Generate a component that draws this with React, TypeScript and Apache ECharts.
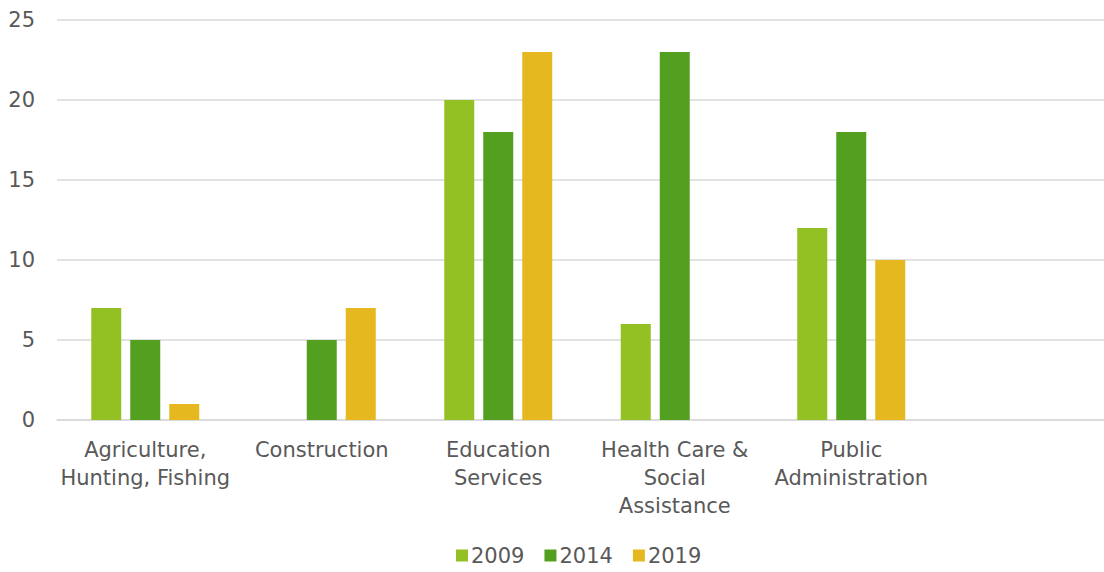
import React, { useEffect, useRef } from "react";
import * as echarts from "echarts";

const categories = [
  "Agriculture,\nHunting, Fishing",
  "Construction",
  "Education\nServices",
  "Health Care &\nSocial\nAssistance",
  "Public\nAdministration",
  "",
];
const seriesNames = ["2009", "2014", "2019"];
const values2009 = [7, null, 20, 6, 12, null];
const values2014 = [5, 5, 18, 23, 18, null];
const values2019 = [1, 7, 23, null, 10, null];
const yTicks = [0, 5, 10, 15, 20, 25];
const colors = ["#93C123", "#53A021", "#E6B820"];

const FONT = "DejaVu Sans";

export default function App() {
  const ref = useRef<HTMLDivElement>(null);
  useEffect(() => {
    document.body.style.margin = "0";
    const chart = echarts.init(ref.current!, null, { renderer: "svg" });
    const data = [values2009, values2014, values2019];
    chart.setOption({
      animation: false,
      textStyle: { fontFamily: FONT },
      grid: { left: 57, right: 0, top: 20, bottom: 152, containLabel: false },
      legend: {
        bottom: 1,
        left: 451,
        itemWidth: 12,
        itemHeight: 12,
        itemGap: 20,
        icon: "rect",
        textStyle: { fontSize: 21, color: "#595959", fontFamily: FONT, padding: [0, 0, 0, -2] },
        data: seriesNames,
      },
      xAxis: {
        type: "category",
        data: categories,
        axisLine: { lineStyle: { color: "#d9d9d9", width: 1.5 } },
        axisTick: { show: false },
        axisLabel: {
          interval: 0,
          margin: 16,
          fontSize: 21,
          lineHeight: 28,
          color: "#595959",
          fontFamily: FONT,
          align: "center",
        },
      },
      yAxis: {
        type: "value",
        min: yTicks[0],
        max: yTicks[yTicks.length - 1],
        interval: 5,
        axisLine: { show: false },
        axisTick: { show: false },
        splitLine: { lineStyle: { color: "#d9d9d9", width: 1.5 } },
        axisLabel: { fontSize: 21, color: "#595959", margin: 22, fontFamily: FONT },
      },
      series: seriesNames.map((name, i) => ({
        name,
        type: "bar",
        data: data[i],
        barWidth: 30,
        barGap: "30%",
        itemStyle: { color: colors[i] },
      })),
    });
    return () => chart.dispose();
  }, []);
  return (
    <div style={{ width: 1104, height: 572, position: "absolute", left: 0, top: 0, overflow: "hidden" }}>
      <div ref={ref} style={{ width: 1116, height: 572 }} />
    </div>
  );
}
